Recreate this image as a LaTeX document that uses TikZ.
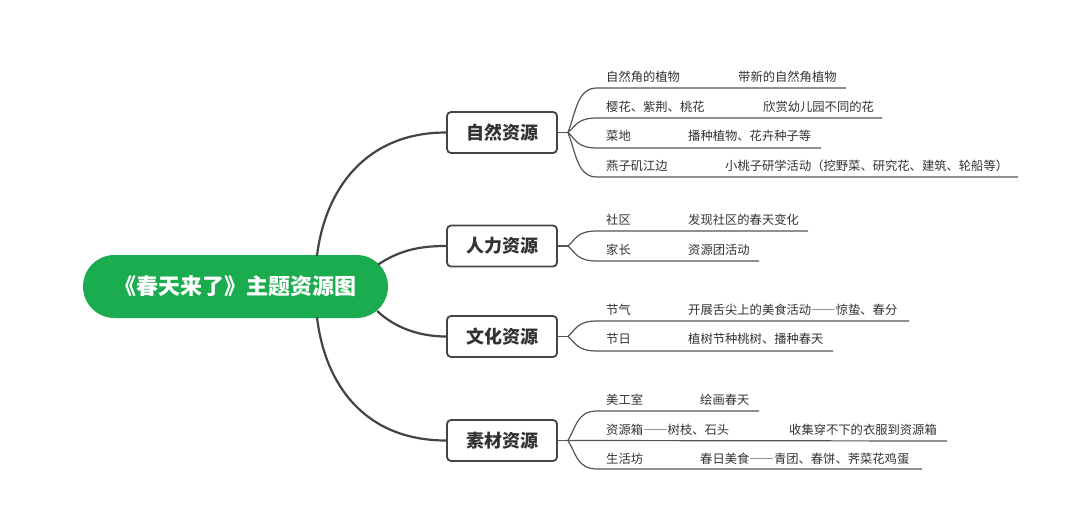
\documentclass[tikz,border=0pt]{standalone}
\usepackage{fontspec}
\setmainfont{Noto Sans CJK SC}
\newfontfamily\fwdash[RawFeature=+fwid]{Noto Sans CJK SC}
\newcommand{\longdash}{{\fwdash ——}}
\usetikzlibrary{calc}
\definecolor{rootgreen}{RGB}{27,172,80}
\definecolor{ink}{HTML}{333333}
\definecolor{linegray}{HTML}{444444}
\definecolor{twiggray}{HTML}{555555}
\begin{document}
\begin{tikzpicture}[x=1pt,y=-1pt,
  rootbox/.style={fill=rootgreen, rounded corners=31.5pt, minimum width=305pt, minimum height=63pt, text=white, font=\fontsize{22}{24}\selectfont\bfseries, inner sep=0pt},
  mainbox/.style={draw=linegray, line width=1.8pt, rounded corners=4pt, fill=white, minimum width=110pt, minimum height=41pt, inner sep=0pt, text=ink, font=\fontsize{18}{20}\selectfont\bfseries},
  branch/.style={draw=linegray, line width=2.2pt},
  twig/.style={draw=twiggray, line width=1.2pt},
  leaf/.style={anchor=west, inner sep=0pt, text=ink, font=\fontsize{12.3}{14}\selectfont}
]
\useasboundingbox[fill=white] (0,0) rectangle (1080,511);

% root
\node[rootbox] (root) at (235.5,286.5) {《春天来了》主题资源图};

% main boxes
\node[mainbox] (n1) at (502,132.5) {自然资源};
\node[mainbox] (n2) at (502,246) {人力资源};
\node[mainbox] (n3) at (502,336.5) {文化资源};
\node[mainbox] (n4) at (502,440.5) {素材资源};

% root connectors
\coordinate (r1) at ($(root.north)+(81.5,1)$);
\coordinate (r2) at ($(root.east)+(-10,-22)$);
\coordinate (r3) at ($(root.east)+(-11,24.5)$);
\coordinate (r4) at ($(root.south)+(81.5,-1)$);
\draw[branch] (r1) .. controls (325,190) and (365,132.5) .. (n1.west);
\draw[branch] (r2) .. controls (400,250) and (420,246) .. (n2.west);
\draw[branch] (r3) .. controls (395,328) and (420,336.5) .. (n3.west);
\draw[branch] (r4) .. controls (325,385) and (365,440.5) .. (n4.west);

% junctions
\coordinate (j1) at ($(n1.east)+(10,0)$);
\coordinate (j2) at ($(n2.east)+(10,0)$);
\coordinate (j3) at ($(n3.east)+(10,0)$);
\coordinate (j4) at ($(n4.east)+(10,0)$);
\draw[twig] (n1.east) -- (j1);
\draw[twig] (n2.east) -- (j2);
\draw[twig] (n3.east) -- (j3);
\draw[twig] (n4.east) -- (j4);

% underline end points
\coordinate (e11) at (846,88);
\coordinate (e12) at (882,118);
\coordinate (e13) at (821,148);
\coordinate (e14) at (1018,177);
\coordinate (e21) at (808,231);
\coordinate (e22) at (759,261);
\coordinate (e31) at (909,321);
\coordinate (e32) at (833,351);
\coordinate (e41) at (759,411);
\coordinate (e42) at (947,441);
\coordinate (e43) at (922,469);

% twigs
\draw[twig] (j1) .. controls (576,112.5) and (577,88) .. (597,88) -- (e11);
\draw[twig] (j1) .. controls (576,126) and (577,118) .. (597,118) -- (e12);
\draw[twig] (j1) .. controls (576,139.5) and (577,148) .. (597,148) -- (e13);
\draw[twig] (j1) .. controls (576,152.5) and (577,177) .. (597,177) -- (e14);
\draw[twig] (j2) .. controls (576,239) and (577,231) .. (597,231) -- (e21);
\draw[twig] (j2) .. controls (576,253) and (577,261) .. (597,261) -- (e22);
\draw[twig] (j3) .. controls (576,329.5) and (577,321) .. (597,321) -- (e31);
\draw[twig] (j3) .. controls (576,343) and (577,351) .. (597,351) -- (e32);
\draw[twig] (j4) .. controls (576,427.5) and (577,411) .. (597,411) -- (e41);
\draw[twig] (j4) -- (e42);
\draw[twig] (j4) .. controls (576,453) and (577,469) .. (597,469) -- (e43);

% leaf texts
\node[leaf] (a11) at (606,77) {自然角的植物};
\node[leaf] (b11) at (738,77) {带新的自然角植物};
\node[leaf] (a12) at (606,107) {樱花、紫荆、桃花};
\node[leaf] (b12) at (763,107) {欣赏幼儿园不同的花};
\node[leaf] (a13) at (606,136) {菜地};
\node[leaf] (b13) at (688,136) {播种植物、花卉种子等};
\node[leaf] (a14) at (606,166) {燕子矶江边};
\node[leaf] (b14) at (725,166) {小桃子研学活动（挖野菜、研究花、建筑、轮船等）};

\node[leaf] (a21) at (606,220) {社区};
\node[leaf] (b21) at (688,220) {发现社区的春天变化};
\node[leaf] (a22) at (606,250) {家长};
\node[leaf] (b22) at (688,250) {资源团活动};

\node[leaf] (a31) at (606,310) {节气};
\node[leaf] (b31) at (688,310) {开展舌尖上的美食活动\longdash 惊蛰、春分};
\node[leaf] (a32) at (606,339) {节日};
\node[leaf] (b32) at (688,339) {植树节种桃树、播种春天};

\node[leaf] (a41) at (606,400) {美工室};
\node[leaf] (b41) at (700,400) {绘画春天};
\node[leaf] (a42) at (606,430) {资源箱\longdash 树枝、石头};
\node[leaf] (b42) at (789,430) {收集穿不下的衣服到资源箱};
\node[leaf] (a43) at (606,459) {生活坊};
\node[leaf] (b43) at (700,459) {春日美食\longdash 青团、春饼、荠菜花鸡蛋};
\end{tikzpicture}
\end{document}
